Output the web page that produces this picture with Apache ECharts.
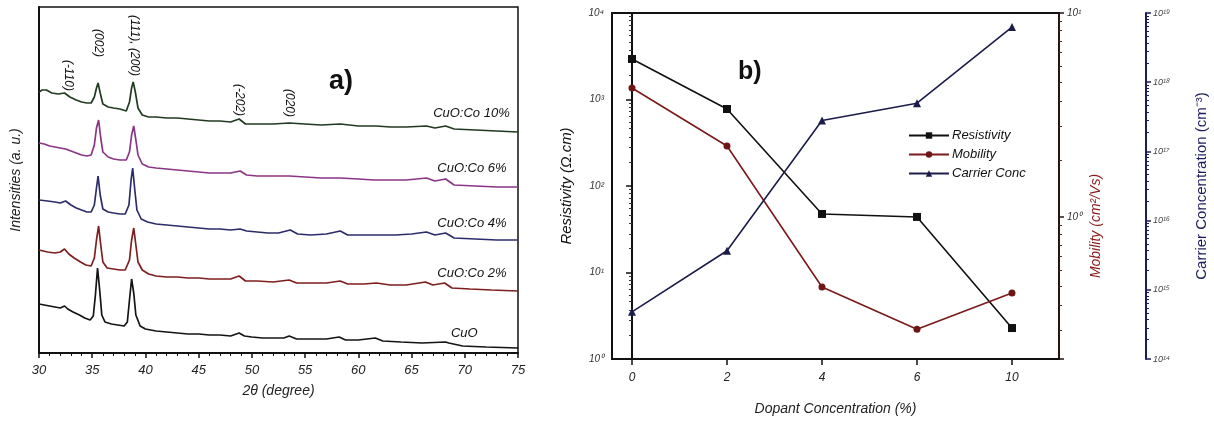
<!DOCTYPE html>
<html><head><meta charset="utf-8">
<script src="https://cdn.jsdelivr.net/npm/echarts@6/dist/echarts.min.js"></script>
<style>html,body{margin:0;padding:0;background:#fff}#c{width:1214px;height:424px}</style>
</head><body><div id="c"></div>
<script>
// ---------- Panel a: XRD patterns (2θ, intensity a.u., stacked offsets) ----------
const sampleNames = ['CuO:Co 10%', 'CuO:Co 6%', 'CuO:Co 4%', 'CuO:Co 2%', 'CuO'];
const xrdCo10 = [[30,261],[30.3,263],[30.7,263],[31.2,260],[31.8,259],[32.4,260],[32.9,256],[33.5,253],[34,251],[34.5,250],[34.9,250],[35.2,256],[35.4,265],[35.55,270],[35.75,260],[36,249],[36.5,246],[37,245],[37.6,244],[38.2,242],[38.5,251],[38.7,265],[38.85,271],[39.05,261],[39.3,245],[39.7,238],[40.3,236],[41,236],[42,235],[43,235],[44,234],[45,233],[46,232],[47,232],[48,231],[48.8,234],[49.4,229],[50.5,229],[52,229],[53.5,230],[55,229],[56.5,228],[58.3,229],[60,227],[61.7,227],[63,226],[64.5,226],[66.4,227],[67.2,225],[68.2,227],[69,224],[71,223],[73,222],[75,221]];
const xrdCo6 = [[30,210],[30.5,209],[31,207],[31.5,206],[32,205],[32.5,204],[33,202],[33.5,200],[34,198],[34.5,197],[34.9,198],[35.2,208],[35.4,225],[35.6,233],[35.8,215],[36,201],[36.5,196],[37,194],[37.6,193],[38.2,193],[38.5,201],[38.7,218],[38.9,227],[39.1,213],[39.3,198],[39.7,189],[40.3,186],[41,185],[42,184],[43,183],[44,182],[45,181],[46,180],[47,180],[48,180],[48.9,182],[49.5,178],[50.5,177],[52,177],[53.5,177],[55,176],[56.5,175],[58.3,175],[60,174],[61.5,173],[63,173],[64.5,173],[66.4,175],[67.2,172],[68.2,174],[69,168],[71,167],[73,166],[75,166]];
const xrdCo4 = [[30,153],[30.8,152],[31.5,151],[32,150],[32.5,152],[33,148],[33.5,145],[34,143],[34.5,141],[34.9,141],[35.2,148],[35.4,165],[35.55,177],[35.75,158],[36,144],[36.5,141],[37,140],[37.6,139],[38.1,139],[38.45,148],[38.65,173],[38.8,185],[39,163],[39.2,143],[39.6,134],[40.2,131],[41,129],[42,128],[43,127],[44,126],[45,125],[46,124],[47,124],[48,123],[48.9,124],[49.5,122],[50.5,121],[51.5,120],[52.5,120],[53.6,123],[54.3,119],[55.5,118],[57,119],[58.3,122],[59,118],[60.5,118],[62,118],[63.5,118],[65,119],[66.4,121],[67.2,118],[68.2,120],[69,115],[71,114],[73,113],[75,113]];
const xrdCo2 = [[30,103],[30.8,101],[31.5,100],[32,101],[32.4,104],[32.8,99],[33.3,95],[33.9,91],[34.4,88],[34.9,87],[35.2,95],[35.4,113],[35.6,127],[35.8,108],[36,91],[36.4,85],[37,84],[37.6,83],[38.1,83],[38.5,93],[38.7,113],[38.9,125],[39.1,108],[39.3,91],[39.7,83],[40.3,79],[41,77],[42,76],[43,76],[44,75],[45,75],[46,74],[47,74],[48,74],[48.8,77],[49.4,72],[50.5,72],[52,71],[53.5,73],[54.2,70],[55.5,70],[57,70],[58.3,72],[59,69],[60.5,69],[61.7,70],[63,68],[64.5,68],[66.3,71],[67,68],[68.1,70],[68.8,65],[70.5,64],[72.5,63],[75,62]];
const xrdCuO = [[30,49],[30.5,48],[31,47],[31.5,46],[32,45],[32.4,47],[32.7,44],[33.2,41],[33.8,38],[34.3,35],[34.8,33],[35.1,37],[35.3,58],[35.5,85],[35.7,63],[35.9,38],[36.2,31],[36.8,29],[37.4,28],[38,27],[38.3,31],[38.5,53],[38.7,74],[38.9,60],[39.1,38],[39.5,27],[40,24],[41,22],[42,21],[43,20],[44,19],[45,19],[46,18],[47,18],[48,17],[48.8,20],[49.3,17],[50,16],[51,15],[52,15],[53,15],[53.5,17],[54.2,14],[55,14],[56,14],[57,14],[58.2,16],[58.8,13],[60,13],[61.6,15],[62.3,12],[64,11],[66,10],[68.2,11],[68.5,10],[69.8,7],[72,6],[75,5]];
const sampleLabelX = [74.27, 73.98, 73.98, 73.98, 71.26];
const sampleLabelY = [240, 185, 130, 80, 20];
const peakNames = ['(-110)', '(002)', '(111), (200)', '(-202)', '(020)'];
const peakX = [32.8, 35.6, 39.0, 48.8, 53.5];
const peakY = [262, 296, 277, 237, 236];

// ---------- Panel b: electrical properties ----------
const dopantCats = ['0', '2', '4', '6', '10'];
const resistivity = [2940, 776, 47.5, 43.9, 2.28];
const mobility = [4.29, 2.23, 0.454, 0.282, 0.424];
const carrierConc = [4.8e14, 3.67e15, 2.8e17, 4.97e17, 6.27e18];

// ---------- styles ----------
const curveColors = ['#223a22', '#8a3585', '#2c2c6a', '#7e1e1e', '#141414'];
const FF = '"Liberation Sans", Arial, sans-serif';
const SUP = {'0':'⁰','1':'¹','2':'²','3':'³','4':'⁴','5':'⁵','6':'⁶','7':'⁷','8':'⁸','9':'⁹','-':'⁻'};
function pow10Label(v) {
  const e = Math.log10(v);
  const r = Math.round(e);
  if (Math.abs(e - r) > 1e-6) return '';
  return '10' + String(r).split('').map(c => SUP[c]).join('');
}

const xrdSets = [xrdCo10, xrdCo6, xrdCo4, xrdCo2, xrdCuO];
const series = xrdSets.map((d, i) => ({
  name: sampleNames[i], type: 'line', xAxisIndex: 0, yAxisIndex: 0,
  data: d, showSymbol: false, symbol: 'none', smooth: false, silent: true,
  lineStyle: {color: curveColors[i], width: 1.7}
}));
series.push({
  type: 'scatter', xAxisIndex: 0, yAxisIndex: 0, silent: true, symbolSize: 1,
  itemStyle: {color: 'rgba(0,0,0,0)', opacity: 1},
  data: sampleNames.map((n, i) => ({name: n, value: [sampleLabelX[i], sampleLabelY[i]]})),
  label: {show: true, position: 'left', distance: 0, formatter: p => p.name, opacity: 1,
    fontFamily: FF, fontStyle: 'italic', fontSize: 13, color: '#111'}
});
series.push({
  type: 'scatter', xAxisIndex: 0, yAxisIndex: 0, silent: true, symbolSize: 1,
  itemStyle: {color: 'rgba(0,0,0,0)', opacity: 1},
  data: peakNames.map((n, i) => ({name: n, value: [peakX[i], peakY[i]]})),
  label: {show: true, position: 'inside', rotate: -90, align: 'right', verticalAlign: 'middle', opacity: 1,
    formatter: p => p.name, fontFamily: FF, fontStyle: 'italic', fontSize: 12, color: '#111'}
});
const bSeries = [
  {name: 'Resistivity', vals: resistivity, y: 1, symbol: 'rect', size: 8, color: '#111111', line: '#111111'},
  {name: 'Mobility', vals: mobility, y: 2, symbol: 'circle', size: 7, color: '#6e1616', line: '#7a1a1a'},
  {name: 'Carrier Conc', vals: carrierConc, y: 3, symbol: 'triangle', size: 8, color: '#1c1c4a', line: '#1c1c4a'}
];
bSeries.forEach(s => series.push({
  name: s.name, type: 'line', xAxisIndex: 1, yAxisIndex: s.y,
  data: s.vals.map((v, i) => [i, v]), symbol: s.symbol, symbolSize: s.size, silent: true,
  itemStyle: {color: s.color}, lineStyle: {color: s.line, width: 1.6}
}));

const option = {
  animation: false,
  backgroundColor: '#ffffff',
  textStyle: {fontFamily: FF},
  title: [
    {text: 'a)', left: 324, top: 63, textStyle: {fontFamily: FF, fontSize: 27, fontWeight: 'bold', color: '#111'}},
    {text: 'b)', left: 733, top: 55, textStyle: {fontFamily: FF, fontSize: 25, fontWeight: 'bold', color: '#111'}}
  ],
  legend: {
    left: 903, top: 124, orient: 'vertical', itemWidth: 40, itemHeight: 8, itemGap: 6,
    data: ['Resistivity', 'Mobility', 'Carrier Conc'],
    textStyle: {fontFamily: FF, fontStyle: 'italic', fontSize: 13, color: '#111', padding: [0, 0, 0, -2]}
  },
  grid: [
    {left: 39, top: 7, width: 479, height: 346, show: true, borderColor: '#111', borderWidth: 1.5, containLabel: false},
    {left: 612, top: 13, width: 447, height: 346, show: true, borderColor: '#111', borderWidth: 2, containLabel: false}
  ],
  xAxis: [
    {gridIndex: 0, type: 'value', min: 30, max: 75, interval: 5,
      axisLine: {show: true, lineStyle: {color: '#111', width: 2}},
      axisTick: {show: true, length: 5, lineStyle: {color: '#111', width: 1.5}},
      minorTick: {show: true, splitNumber: 5, length: 3, lineStyle: {color: '#111', width: 1}},
      splitLine: {show: false},
      axisLabel: {fontFamily: FF, fontStyle: 'italic', fontSize: 13, color: '#222', margin: 11},
      name: '2θ (degree)', nameLocation: 'middle', nameGap: 31,
      nameTextStyle: {fontFamily: FF, fontStyle: 'italic', fontSize: 14, color: '#222'}},
    {gridIndex: 1, type: 'value', min: -0.2105, max: 4.495,
      axisLine: {show: true, lineStyle: {color: '#111', width: 2}},
      axisTick: {show: true, customValues: [0, 1, 2, 3, 4], length: 6, lineStyle: {color: '#111', width: 1.5}},
      splitLine: {show: false},
      axisLabel: {customValues: [0, 1, 2, 3, 4], formatter: v => dopantCats[Math.round(v)],
        fontFamily: FF, fontStyle: 'italic', fontSize: 12, color: '#222', margin: 13},
      name: 'Dopant Concentration (%)', nameLocation: 'middle', nameGap: 43,
      nameTextStyle: {fontFamily: FF, fontStyle: 'italic', fontSize: 14, color: '#222'}}
  ],
  yAxis: [
    {gridIndex: 0, type: 'value', min: 0, max: 346,
      axisLine: {show: true, lineStyle: {color: '#111', width: 2}},
      axisTick: {show: false}, axisLabel: {show: false}, splitLine: {show: false},
      name: 'Intensities (a. u.)', nameLocation: 'middle', nameGap: 16,
      nameTextStyle: {fontFamily: FF, fontStyle: 'italic', fontSize: 14, color: '#222'}},
    {gridIndex: 1, type: 'log', logBase: 10, min: 1, max: 10000, position: 'left',
      axisLine: {show: true, lineStyle: {color: '#111', width: 2}},
      axisTick: {show: true, length: 6, lineStyle: {color: '#111', width: 1.5}},
      minorTick: {show: true, splitNumber: 10, length: 3, lineStyle: {color: '#333', width: 1}},
      splitLine: {show: false},
      axisLabel: {formatter: pow10Label, fontFamily: FF, fontStyle: 'italic', fontSize: 10, color: '#333', margin: 8},
      name: 'Resistivity (Ω.cm)', nameLocation: 'middle', nameGap: 38, nameRotate: 90,
      nameTextStyle: {fontFamily: FF, fontStyle: 'italic', fontSize: 15, color: '#111'}},
    {gridIndex: 1, type: 'log', logBase: 10, min: 0.2014, max: 10, position: 'right',
      axisLine: {show: true, lineStyle: {color: '#2a1212', width: 2}},
      axisTick: {show: true, length: 5, lineStyle: {color: '#2a1212', width: 1.5}},
      minorTick: {show: true, splitNumber: 10, length: 3, lineStyle: {color: '#5a2222', width: 1}},
      splitLine: {show: false},
      axisLabel: {formatter: pow10Label, fontFamily: FF, fontStyle: 'italic', fontSize: 10, color: '#333', margin: 8},
      name: 'Mobility (cm²/Vs)', nameLocation: 'middle', nameGap: 30, nameRotate: 90,
      nameTextStyle: {fontFamily: FF, fontStyle: 'italic', fontSize: 14, color: '#8b1a1a', padding: [0, 80, 0, 0]}},
    {gridIndex: 1, type: 'log', logBase: 10, min: 1e14, max: 1e19, position: 'right', offset: 87,
      axisLine: {show: true, lineStyle: {color: '#1c1c5c', width: 2}},
      axisTick: {show: true, length: 5, lineStyle: {color: '#1c1c5c', width: 1.5}},
      minorTick: {show: true, splitNumber: 10, length: 3, lineStyle: {color: '#1c1c5c', width: 1}},
      splitLine: {show: false},
      axisLabel: {formatter: pow10Label, fontFamily: FF, fontStyle: 'italic', fontSize: 9, color: '#444', margin: 7},
      name: 'Carrier Concentration (cm⁻³)', nameLocation: 'middle', nameGap: 48, nameRotate: 90,
      nameTextStyle: {fontFamily: FF, fontSize: 15, color: '#1c1c5c'}}
  ],
  series: series
};
const chart = echarts.init(document.getElementById('c'), null, {renderer: 'canvas'});
chart.setOption(option);
</script>
</body></html>
